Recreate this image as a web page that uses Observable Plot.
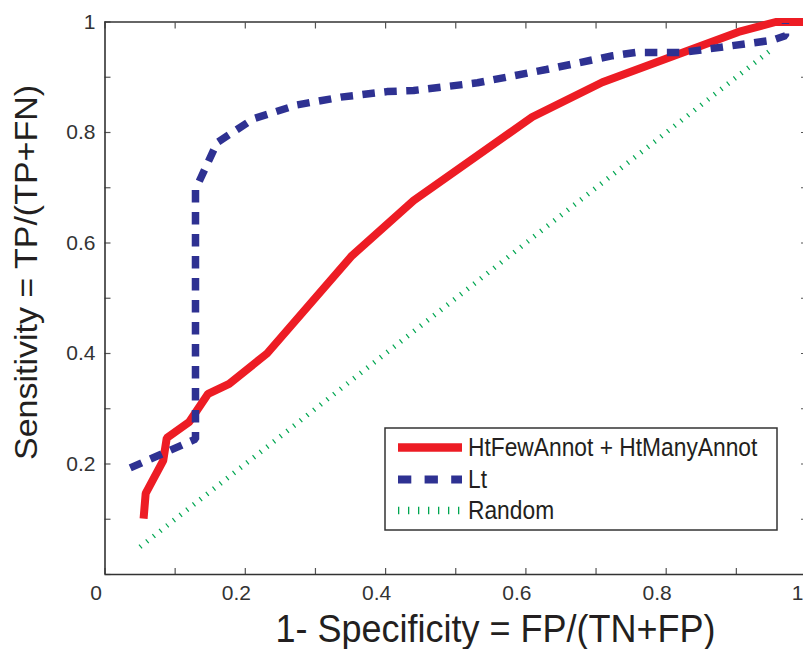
<!DOCTYPE html>
<html><head><meta charset="utf-8">
<script src="https://cdn.jsdelivr.net/npm/d3@7"></script>
<script src="https://cdn.jsdelivr.net/npm/@observablehq/plot@0.6"></script>
<style>
body{margin:0;background:#fff;}
#wrap{position:relative;width:803px;height:649px;overflow:hidden;background:#fff;}
#wrap svg{max-width:none !important;}
</style></head><body><div id="wrap"></div>
<script>
// HtFewAnnot + HtManyAnnot
const redX = [0.055,0.058,0.083,0.088,0.120,0.147,0.177,0.231,0.352,0.440,0.609,0.709,0.820,0.903,0.956,1.0];
const redY = [0.101,0.147,0.206,0.247,0.276,0.327,0.345,0.400,0.577,0.677,0.828,0.891,0.943,0.982,1.0,1.0];
// Lt
const blueX = [0.036,0.129,0.129,0.160,0.212,0.274,0.336,0.402,0.440,0.531,0.629,0.724,0.757,0.824,0.951,0.970,0.970];
const blueY = [0.193,0.245,0.697,0.782,0.825,0.850,0.864,0.874,0.876,0.890,0.914,0.939,0.945,0.945,0.967,0.975,0.998];
// Random
const randX = [0.05,0.95];
const randY = [0.05,0.95];

const seriesNames = ["HtFewAnnot + HtManyAnnot","Lt","Random"];
const xLabel = "1- Specificity = FP/(TN+FP)";
const yLabel = "Sensitivity = TP/(TP+FN)";
const xTickLabels = [0,0.2,0.4,0.6,0.8,1];
const yTickLabels = [0.2,0.4,0.6,0.8,1];
const minorTicks = [0,0.1,0.2,0.3,0.4,0.5,0.6,0.7,0.8,0.9,1];

const red = "#ED1C24", blue = "#2E3192", green = "#00A651", ink = "#231F20";
const font = "'Liberation Sans', Arial, Helvetica, sans-serif";

const red_ = redX.map((x,i)=>({x, y: redY[i]}));
const blue_ = blueX.map((x,i)=>({x, y: blueY[i]}));
const rand_ = randX.map((x,i)=>({x, y: randY[i]}));

const blank = () => "";
const plot = Plot.plot({
  width: 810, height: 649,
  marginLeft: 104.5, marginRight: 4, marginTop: 21.5, marginBottom: 75,
  x: {domain: [0,1]},
  y: {domain: [0,1]},
  style: {fontFamily: font, background: "white", color: ink, maxWidth: "none"},
  marks: [
    Plot.axisX({anchor: "bottom", ticks: minorTicks, tickSize: 6, dy: -6, tickFormat: blank, label: null, stroke: "#555", strokeWidth: 1.2}),
    Plot.axisX({anchor: "top", ticks: minorTicks, tickSize: 6, dy: 6, tickFormat: blank, label: null, stroke: "#555", strokeWidth: 1.2}),
    Plot.axisY({anchor: "left", ticks: minorTicks, tickSize: 6, dx: 6, tickFormat: blank, label: null, stroke: "#555", strokeWidth: 1.2}),
    Plot.axisY({anchor: "right", ticks: minorTicks, tickSize: 6, dx: -6, tickFormat: blank, label: null, stroke: "#555", strokeWidth: 1.2}),
    Plot.axisX({anchor: "bottom", ticks: xTickLabels, tickSize: 0, tickPadding: 10.5, dx: -9, tickFormat: d => String(d), label: null, fontSize: 21, fill: "#333"}),
    Plot.axisY({anchor: "left", ticks: yTickLabels, tickSize: 0, tickPadding: 9.5, tickFormat: d => String(d), label: null, fontSize: 21, fill: "#333"}),
    Plot.ruleX([0,1], {x: d => d, y1: 0, y2: 1, stroke: "#333", strokeWidth: 1.6}),
    Plot.ruleY([0,1], {y: d => d, x1: 0, x2: 1, stroke: "#333", strokeWidth: 1.6}),
    Plot.line(rand_, {x: "x", y: "y", stroke: green, strokeWidth: 5, strokeDasharray: "1.2 7.3", strokeLinecap: "butt"}),
    Plot.line(red_, {x: "x", y: "y", stroke: red, strokeWidth: 8, strokeLinecap: "butt", strokeLinejoin: "miter"}),
    Plot.line(blue_, {x: "x", y: "y", stroke: blue, strokeWidth: 7.5, strokeDasharray: "12.5 9.5", strokeLinecap: "butt", strokeLinejoin: "miter"})
  ]
});
plot.style.maxWidth = "none";
document.getElementById("wrap").appendChild(plot);

const svg = d3.select(plot);
// axis titles
svg.append("text")
  .attr("x", 495.5).attr("y", 642)
  .attr("text-anchor", "middle")
  .attr("font-size", 38).attr("fill", ink).attr("font-family", font)
  .attr("textLength", 440).attr("lengthAdjust", "spacingAndGlyphs")
  .text(xLabel);
svg.append("text")
  .attr("transform", "translate(37,272.5) scale(0.94,1) rotate(-90)")
  .attr("text-anchor", "middle")
  .attr("font-size", 34).attr("fill", ink).attr("font-family", font)
  .attr("textLength", 375).attr("lengthAdjust", "spacingAndGlyphs")
  .text(yLabel);

// legend
const lg = svg.append("g");
lg.append("rect").attr("x", 385).attr("y", 428).attr("width", 392).attr("height", 102)
  .attr("fill", "white").attr("stroke", "#333").attr("stroke-width", 1.5);
const rows = [
  {name: seriesNames[0], stroke: red, w: 8.5, dash: null, base: 456},
  {name: seriesNames[1], stroke: blue, w: 8, dash: "13.3 13.3", base: 488},
  {name: seriesNames[2], stroke: green, w: 7.5, dash: "1.3 8.7", base: 519}
];
rows.forEach(r => {
  const cy = r.base - 8.5;
  const l = lg.append("line").attr("x1", 398).attr("x2", 462).attr("y1", cy).attr("y2", cy)
    .attr("stroke", r.stroke).attr("stroke-width", r.w).attr("stroke-linecap", "butt");
  if (r.dash) l.attr("stroke-dasharray", r.dash);
  lg.append("text").attr("transform", `translate(468,${r.base}) scale(0.86,1)`)
    .attr("text-anchor", "start")
    .attr("font-size", 26.5).attr("fill", ink).attr("font-family", font)
    .text(r.name);
});
</script>
</body></html>
